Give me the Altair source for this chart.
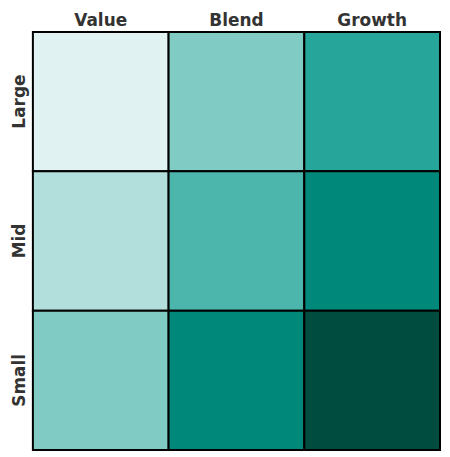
import altair as alt
import pandas as pd

styles = ["Value", "Blend", "Growth"]
sizes = ["Large", "Mid", "Small"]
# colour level per cell (row = size, column = style)
levels = [
    [1, 3, 5],
    [2, 4, 6],
    [3, 6, 7],
]
palette_domain = [1, 2, 3, 4, 5, 6, 7]
palette_range = ["#E0F2F1", "#B2DFDB", "#80CBC4", "#4DB6AC", "#26A69A", "#00897B", "#004D40"]

rows = []
for i, s in enumerate(sizes):
    for j, st in enumerate(styles):
        rows.append({"size": s, "style": st, "level": levels[i][j]})
df = pd.DataFrame(rows)

chart = alt.Chart(df).mark_rect(stroke="black", strokeWidth=2).encode(
    x=alt.X("style:N", sort=styles, title=None,
            scale=alt.Scale(paddingInner=0, paddingOuter=0),
            axis=alt.Axis(orient="top", labelAngle=0, ticks=False, domain=False,
                          labelFont="DejaVu Sans", labelFontWeight="bold",
                          labelBaseline="alphabetic",
                          labelFontSize=17, labelColor="#333333", labelPadding=6)),
    y=alt.Y("size:N", sort=sizes, title=None,
            scale=alt.Scale(paddingInner=0, paddingOuter=0),
            axis=alt.Axis(labelAngle=-90, labelAlign="center", labelBaseline="alphabetic",
                          ticks=False, domain=False,
                          labelFont="DejaVu Sans", labelFontWeight="bold",
                          labelFontSize=17, labelColor="#333333", labelPadding=8)),
    color=alt.Color("level:O", scale=alt.Scale(domain=palette_domain, range=palette_range),
                    legend=None),
).properties(
    width=409, height=420,
    padding={"left": 25, "top": 23, "right": 2, "bottom": 2},
    autosize=alt.AutoSizeParams(type="none"),
).configure_view(stroke=None).configure_axis(grid=False)

chart.save("out.html", embed_options={"renderer": "svg", "actions": False})
